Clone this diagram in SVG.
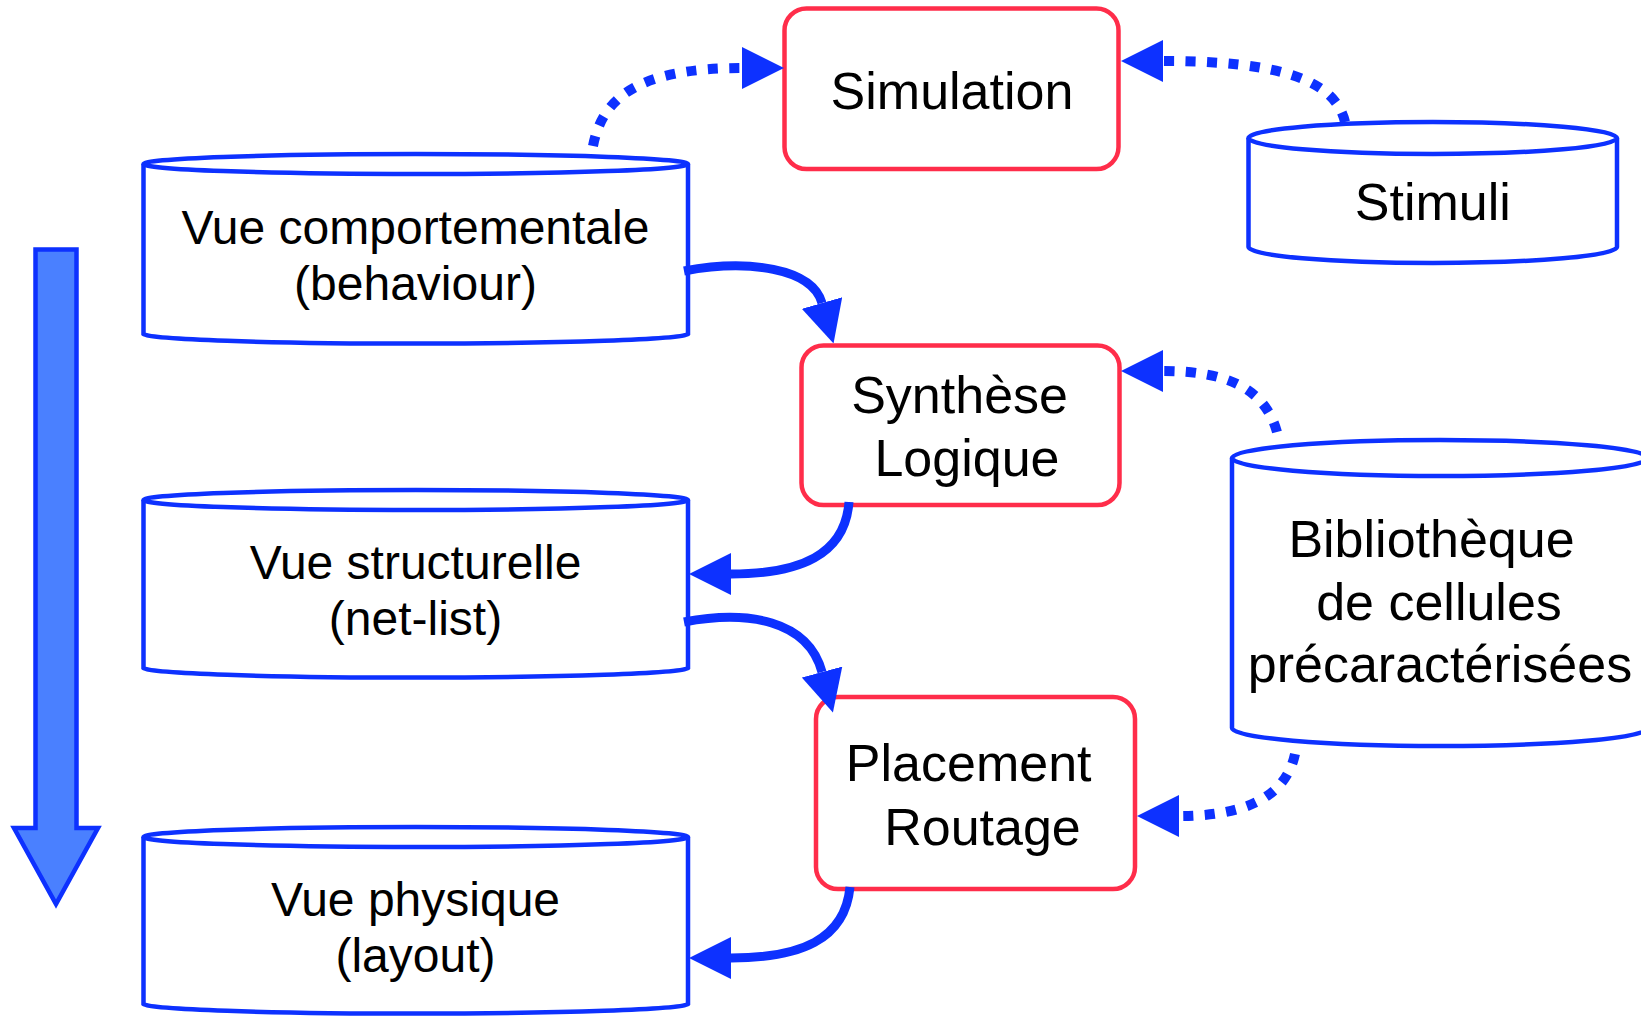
<svg xmlns="http://www.w3.org/2000/svg" width="1641" height="1016" viewBox="0 0 1641 1016">
<defs>
<style>
.cyl{fill:#ffffff;stroke:#0d31ff;stroke-width:4.5}
.box{fill:#ffffff;stroke:#ff2d4a;stroke-width:4.5}
.t48{font-family:"Liberation Sans",Arial,sans-serif;font-size:48px;fill:#000;text-anchor:middle}
.t52{font-family:"Liberation Sans",Arial,sans-serif;font-size:52px;fill:#000;text-anchor:middle}
.solid{fill:none;stroke:#0d31ff;stroke-width:9}
.dot{fill:none;stroke:#0d31ff;stroke-width:10;stroke-dasharray:10 11.5}
</style>
<marker id="ah" markerUnits="userSpaceOnUse" markerWidth="42" markerHeight="42" viewBox="0 -21 42 42" refX="0" refY="0" orient="auto">
<path d="M0,-21 L42,0 L0,21 Z" fill="#0d31ff"/>
</marker>
</defs>
<rect width="1641" height="1016" fill="#ffffff"/>

<g id="flow-arrow">
<path d="M35.5,249.5 H76.5 V828 H98 L56,904 L14,828 H35.5 Z" fill="#4a80ff" stroke="#0d31ff" stroke-width="4.5"/>
</g>

<g id="vue-comportementale">
<path class="cyl" d="M143.5,164 V334 A272.5,10 0 0 0 688,334 V164"/>
<ellipse class="cyl" cx="415.75" cy="164" rx="272.25" ry="10"/>
<text class="t48" x="415.5" y="243.5">Vue comportementale</text>
<text class="t48" x="415.5" y="300">(behaviour)</text>
</g>

<g id="vue-structurelle">
<path class="cyl" d="M143.5,500 V668 A272.5,10 0 0 0 688,668 V500"/>
<ellipse class="cyl" cx="415.75" cy="500" rx="272.25" ry="10"/>
<text class="t48" x="415.5" y="579">Vue structurelle</text>
<text class="t48" x="415.5" y="635">(net-list)</text>
</g>

<g id="vue-physique">
<path class="cyl" d="M143.5,837 V1004 A272.5,10 0 0 0 688,1004 V837"/>
<ellipse class="cyl" cx="415.75" cy="837" rx="272.25" ry="10"/>
<text class="t48" x="415.5" y="916">Vue physique</text>
<text class="t48" x="415.5" y="972">(layout)</text>
</g>

<g id="simulation">
<rect class="box" x="784.5" y="8.5" width="334" height="160.5" rx="22" ry="22"/>
<text class="t52" x="952" y="108.5">Simulation</text>
</g>

<g id="synthese-logique">
<rect class="box" x="801.5" y="345.5" width="318" height="159.5" rx="22" ry="22"/>
<text class="t52" x="959.6" y="413">Synthèse</text>
<text class="t52" x="967" y="476">Logique</text>
</g>

<g id="placement-routage">
<rect class="box" x="816" y="697" width="319" height="192" rx="22" ry="22"/>
<text class="t52" x="968.7" y="781">Placement</text>
<text class="t52" x="982.5" y="845">Routage</text>
</g>

<g id="stimuli">
<path class="cyl" d="M1248.5,138 V247 A184.25,16 0 0 0 1617,247 V138"/>
<ellipse class="cyl" cx="1432.75" cy="138" rx="184.25" ry="16"/>
<text class="t52" x="1432.8" y="220">Stimuli</text>
</g>

<g id="bibliotheque">
<path class="cyl" d="M1232,458 V728 A208,18 0 0 0 1648,728 V458"/>
<ellipse class="cyl" cx="1440" cy="458" rx="208" ry="18"/>
<text class="t52" x="1431.5" y="557">Bibliothèque</text>
<text class="t52" x="1439" y="620">de cellules</text>
<text class="t52" x="1440" y="682">précaractérisées</text>
</g>

<g id="connectors">
<path class="dot" d="M593,146 C602,100 635,68 742,68" marker-end="url(#ah)"/>
<path class="dot" d="M1345,122 C1335,80 1280,61 1163,61" marker-end="url(#ah)"/>
<path class="dot" d="M1277,432 C1265,390 1230,371 1163,371" marker-end="url(#ah)"/>
<path class="dot" d="M1295,754 C1285,800 1240,816 1179,816" marker-end="url(#ah)"/>
<path class="solid" d="M684,271 C748,259 812,268 822,303" marker-end="url(#ah)"/>
<path class="solid" d="M849,502 C845,555 800,574 731,574" marker-end="url(#ah)"/>
<path class="solid" d="M684,622 C748,610 808,620 822,672" marker-end="url(#ah)"/>
<path class="solid" d="M850,887 C845,940 800,958 731,958" marker-end="url(#ah)"/>
</g>
</svg>
